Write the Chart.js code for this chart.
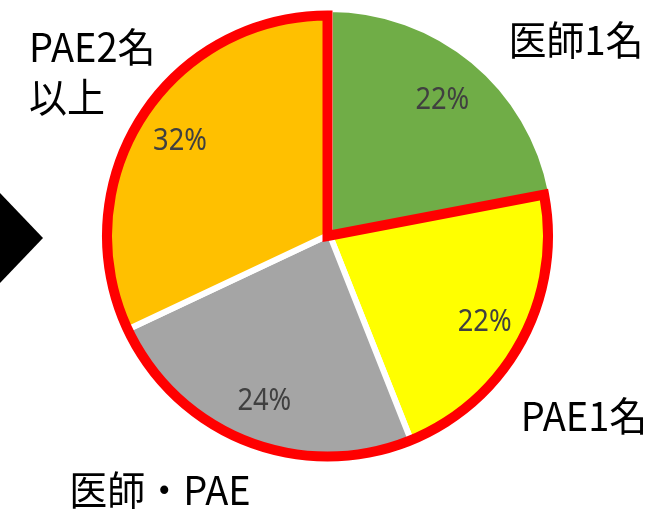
<!DOCTYPE html>
<html lang="ja">
<head>
  <meta charset="UTF-8">
  <title>医師・PAE 構成比</title>
  <script src="https://cdn.jsdelivr.net/npm/chart.js"></script>
  <style>
    html, body { margin: 0; padding: 0; background: #fff; }
    #wrap { width: 667px; height: 513px; position: relative; }
  </style>
</head>
<body>
<div id="wrap"><canvas id="pie" width="667" height="513"></canvas></div>

<script>
  // data, clockwise from 12 o'clock
  const categories = ['医師1名', 'PAE1名', '医師・PAE', 'PAE2名以上'];
  const shares = [22, 22, 24, 32];
  const sliceColors = ['#70AD47', '#FFFF00', '#A5A5A5', '#FFC000'];

  // where the category captions sit, and how they break
  const captionLines = [['医師1名'], ['PAE1名'], ['医師・PAE'], ['PAE2名', '以上']];
  const captionPos = [
    { x: 576, y: 40, align: 'center' },
    { x: 584, y: 416, align: 'center' },
    { x: 160, y: 490, align: 'center' },
    { x: 29, y: 47, align: 'left', step: 50 }
  ];

  const overlay = {
    id: 'overlay',
    afterDatasetsDraw(chart) {
      const ctx = chart.ctx;
      const arcs = chart.getDatasetMeta(0).data;
      const total = shares.reduce((a, b) => a + b, 0);
      const c = arcs[0];
      const R = c.outerRadius;

      // red outline round every slice except the first one
      const a0 = arcs[1].startAngle, a1 = arcs[3].endAngle;
      const cx = c.x - 2, cy = c.y + 1.5, r = R - 5;
      ctx.save();
      ctx.beginPath();
      ctx.moveTo(cx, cy);
      ctx.lineTo(cx + r * Math.cos(a0), cy + r * Math.sin(a0));
      ctx.arc(cx, cy, r, a0, a1);
      ctx.closePath();
      ctx.lineWidth = 10;
      ctx.lineJoin = 'miter';
      ctx.strokeStyle = '#FF0000';
      ctx.stroke();
      ctx.restore();

      // percent labels
      ctx.save();
      ctx.font = '31px "Noto Sans", sans-serif';
      ctx.fillStyle = '#404040';
      ctx.textAlign = 'center';
      ctx.textBaseline = 'middle';
      arcs.forEach((arc, i) => {
        const mid = (arc.startAngle + arc.endAngle) / 2;
        const rr = R * 0.785;
        const x = arc.x + rr * Math.cos(mid), y = arc.y + rr * Math.sin(mid) + 2;
        ctx.save();
        ctx.translate(x, y);
        ctx.scale(0.88, 1);
        ctx.fillText(Math.round(shares[i] / total * 100) + '%', 0, 0);
        ctx.restore();
      });
      ctx.restore();

      // category captions, latin parts a bit narrow like the original
      ctx.save();
      ctx.font = '40px "Noto Sans CJK JP", sans-serif';
      ctx.fillStyle = '#000';
      ctx.textBaseline = 'middle';
      captionLines.forEach((lines, i) => {
        const p = captionPos[i];
        lines.forEach((t, j) => {
          ctx.save();
          ctx.translate(p.x, p.y + j * (p.step || 0));
          ctx.scale(0.95, 1);
          ctx.textAlign = p.align;
          ctx.fillText(t, 0, 0);
          ctx.restore();
        });
      });
      ctx.restore();

      // black arrow head on the left edge
      ctx.save();
      ctx.fillStyle = '#000';
      ctx.beginPath();
      ctx.moveTo(0, 193);
      ctx.lineTo(43, 238);
      ctx.lineTo(0, 283);
      ctx.closePath();
      ctx.fill();
      ctx.restore();
    }
  };

  new Chart(document.getElementById('pie'), {
    type: 'pie',
    data: {
      labels: categories,
      datasets: [{
        data: shares,
        backgroundColor: sliceColors,
        borderColor: '#ffffff',
        borderWidth: 6
      }]
    },
    options: {
      responsive: false,
      animation: false,
      layout: { padding: { left: 101, right: 109, top: 6, bottom: 50 } },
      plugins: { legend: { display: false }, tooltip: { enabled: false } }
    },
    plugins: [overlay]
  });
</script>
</body>
</html>
